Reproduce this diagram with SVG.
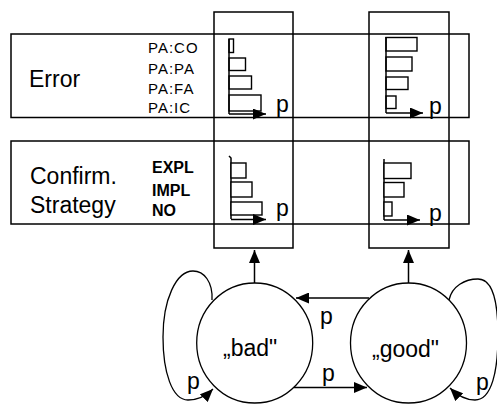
<svg xmlns="http://www.w3.org/2000/svg" width="497" height="405" viewBox="0 0 497 405">
<defs>
<style>
.ln{fill:none;stroke:#000;stroke-width:1.5}
.bar{fill:#fff;stroke:#000;stroke-width:1.4}
.st{fill:none;stroke:#000;stroke-width:1.3}
.big{font-family:"Liberation Sans",Arial,sans-serif;font-size:23px;fill:#000}
.sm{font-family:"Liberation Sans",Arial,sans-serif;font-size:15px;letter-spacing:1px;fill:#000}
.smb{font-family:"Liberation Sans",Arial,sans-serif;font-size:16px;font-weight:bold;fill:#000}
.arr{fill:none;stroke:#000;stroke-width:1.5;marker-end:url(#ah)}
</style>
<marker id="ah" viewBox="0 0 13 11" refX="13" refY="5.5" markerWidth="13" markerHeight="11" markerUnits="userSpaceOnUse" orient="auto">
<path d="M0,0 L13,5.5 L0,11 z" fill="#000"/>
</marker>
</defs>
<rect width="497" height="405" fill="#fff"/>

<g id="row-error">
<rect class="ln" x="11" y="34" width="458" height="83.5"/>
<text class="big" x="29" y="87">Error</text>
<text class="sm" x="148" y="53">PA:CO</text>
<text class="sm" x="148" y="74">PA:PA</text>
<text class="sm" x="148" y="94">PA:FA</text>
<text class="sm" x="148" y="113">PA:IC</text>
</g>

<g id="row-confirm">
<rect class="ln" x="11" y="141" width="458" height="83"/>
<text class="big" x="30" y="184">Confirm.</text>
<text class="big" x="30" y="212.5">Strategy</text>
<text class="smb" x="152" y="173">EXPL</text>
<text class="smb" x="152" y="196">IMPL</text>
<text class="smb" x="152" y="216">NO</text>
</g>

<g id="column-bad">
<rect class="ln" x="214" y="12" width="79" height="236"/>
<g id="chart-bad-error">
<rect class="bar" x="229" y="39" width="4.5" height="13.5"/>
<rect class="bar" x="229" y="58" width="16.5" height="12.5"/>
<rect class="bar" x="229" y="76" width="22.5" height="13"/>
<rect class="bar" x="229" y="95" width="32" height="16"/>
<line class="ln" x1="229" y1="39" x2="229" y2="114"/>
<text class="big" x="276" y="112">p</text>
</g>
<g id="chart-bad-confirm">
<polyline class="ln" points="229,156 231,158 231,219"/>
<rect class="bar" x="231" y="163" width="15" height="15"/>
<rect class="bar" x="231" y="182" width="21" height="15"/>
<rect class="bar" x="231" y="202" width="31" height="13"/>
<text class="big" x="276" y="216">p</text>
</g>
</g>

<g id="column-good">
<rect class="ln" x="369" y="12" width="80" height="236"/>
<g id="chart-good-error">
<rect class="bar" x="386" y="37.5" width="31" height="13.5"/>
<rect class="bar" x="386" y="57" width="26" height="14"/>
<rect class="bar" x="386" y="77" width="22" height="12.5"/>
<rect class="bar" x="386" y="96" width="10" height="12.5"/>
<line class="ln" x1="386" y1="37" x2="386" y2="113"/>
<text class="big" x="429" y="113.5">p</text>
</g>
<g id="chart-good-confirm">
<line class="ln" x1="384" y1="159" x2="384" y2="220"/>
<rect class="bar" x="384" y="163" width="27" height="15.5"/>
<rect class="bar" x="384" y="182.5" width="20" height="14.5"/>
<rect class="bar" x="384" y="202" width="8" height="14"/>
<text class="big" x="429" y="221">p</text>
</g>
</g>

<g id="state-bad">
<ellipse class="st" cx="254.7" cy="343" rx="58" ry="60"/>
<text class="big" x="223" y="356">„bad"</text>
</g>

<g id="state-good">
<ellipse class="st" cx="408.5" cy="343" rx="58" ry="60"/>
<text class="big" x="372" y="357">„good"</text>
</g>

<g id="connectors">
<line class="arr" x1="229" y1="114" x2="266" y2="114"/>
<line class="arr" x1="231" y1="219.5" x2="266" y2="219.5"/>
<line class="arr" x1="386" y1="113" x2="423" y2="113"/>
<line class="arr" x1="384" y1="220" x2="420" y2="220"/>
<line class="arr" x1="254.5" y1="283" x2="254.5" y2="250"/>
<line class="arr" x1="408.5" y1="283" x2="408.5" y2="250"/>
<line class="arr" x1="369" y1="298" x2="296" y2="298"/>
<line class="arr" x1="294" y1="387.5" x2="367" y2="387.5"/>
<path class="arr" style="stroke-width:1.3" d="M212,300 C213,282 204,271 193,271 C176,271 163,300 163,337 C163,372 172,400 188,400 C198,400 206,396 213,389"/>
<path class="arr" style="stroke-width:1.3" d="M449,300 C452,286 465,279 478,279 C492,279 498,300 498,335 C498,370 492,400 475,400 C465,400 457,395 450,388"/>
<text class="big" x="320" y="324">p</text>
<text class="big" x="322" y="381">p</text>
<text class="big" x="187" y="389">p</text>
<text class="big" x="476" y="390">p</text>
</g>
</svg>
